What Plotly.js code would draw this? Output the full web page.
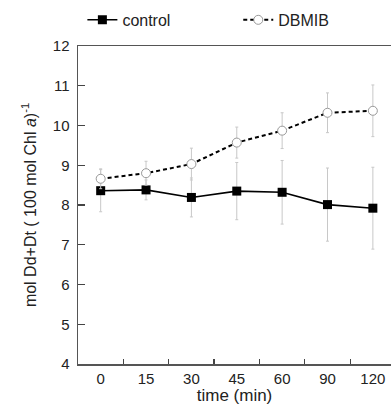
<!DOCTYPE html>
<html>
<head>
<meta charset="utf-8">
<script src="https://cdn.plot.ly/plotly-3.0.1.min.js"></script>
<style>html,body{margin:0;padding:0;background:#fff;}#chart{width:391px;height:412px;}</style>
</head>
<body>
<div id="chart"></div>
<script>
const timeLabels = ["0", "15", "30", "45", "60", "90", "120"];
const controlValues = [8.36, 8.38, 8.19, 8.35, 8.32, 8.01, 7.92];
const controlErrors = [0.53, 0.25, 0.49, 0.72, 0.80, 0.92, 1.03];
const dbmibValues = [8.66, 8.80, 9.03, 9.57, 9.87, 10.32, 10.37];
const dbmibErrors = [0.25, 0.30, 0.40, 0.39, 0.45, 0.50, 0.65];

const FONT = "Liberation Sans, Arial, sans-serif";

const traces = [
  {
    x: timeLabels, y: controlValues, name: "control", type: "scatter", mode: "lines+markers",
    legend: "legend",
    line: {color: "#000", width: 1.6},
    marker: {symbol: "square", size: 9, color: "#000"},
    error_y: {type: "data", array: controlErrors, visible: true, color: "#c8c8c8", thickness: 1, width: 1.5}
  },
  {
    x: timeLabels, y: dbmibValues, name: "DBMIB", type: "scatter", mode: "lines+markers",
    legend: "legend2",
    line: {color: "#000", width: 2, dash: "4px,3px"},
    marker: {symbol: "circle", size: 9, color: "#fff", line: {color: "#999", width: 1}},
    error_y: {type: "data", array: dbmibErrors, visible: true, color: "#c8c8c8", thickness: 1, width: 1.5}
  }
];

const legendCommon = {orientation: "h", xanchor: "left", y: 1.082, yanchor: "middle",
  font: {family: FONT, size: 16, color: "#222"}, bgcolor: "rgba(0,0,0,0)"};

const layout = {
  width: 391, height: 412,
  margin: {l: 78, r: 0, t: 46, b: 48},
  paper_bgcolor: "#fff", plot_bgcolor: "#fff",
  font: {family: FONT, size: 15, color: "#222"},
  showlegend: true,
  legend: Object.assign({}, legendCommon, {x: 0.014}),
  legend2: Object.assign({}, legendCommon, {x: 0.512}),
  xaxis: {
    type: "category", range: [-0.5, 6.4], tickson: "boundaries",
    ticks: "inside", ticklen: 5, tickwidth: 1.3, tickcolor: "#444",
    showline: true, linecolor: "#555", linewidth: 1.5, mirror: true,
    showgrid: false, zeroline: false,
    tickfont: {family: FONT, size: 15, color: "#222"},
    title: {text: "time (min)", font: {family: FONT, size: 17, color: "#222"}, standoff: 3}
  },
  yaxis: {
    range: [4, 12], dtick: 1, tick0: 4,
    ticks: "inside", ticklen: 7, tickwidth: 1.3, tickcolor: "#444",
    showline: true, linecolor: "#555", linewidth: 1.5,
    showgrid: false, zeroline: false,
    tickfont: {family: FONT, size: 15, color: "#222"}, ticklabelstandoff: 4,
    title: {text: "mol Dd+Dt ( 100 mol Chl <i>a</i>)<sup>-1</sup>", font: {family: FONT, size: 16, color: "#222"}, standoff: 12}
  }
};

Plotly.newPlot("chart", traces, layout, {displayModeBar: false, staticPlot: true});
</script>
</body>
</html>
